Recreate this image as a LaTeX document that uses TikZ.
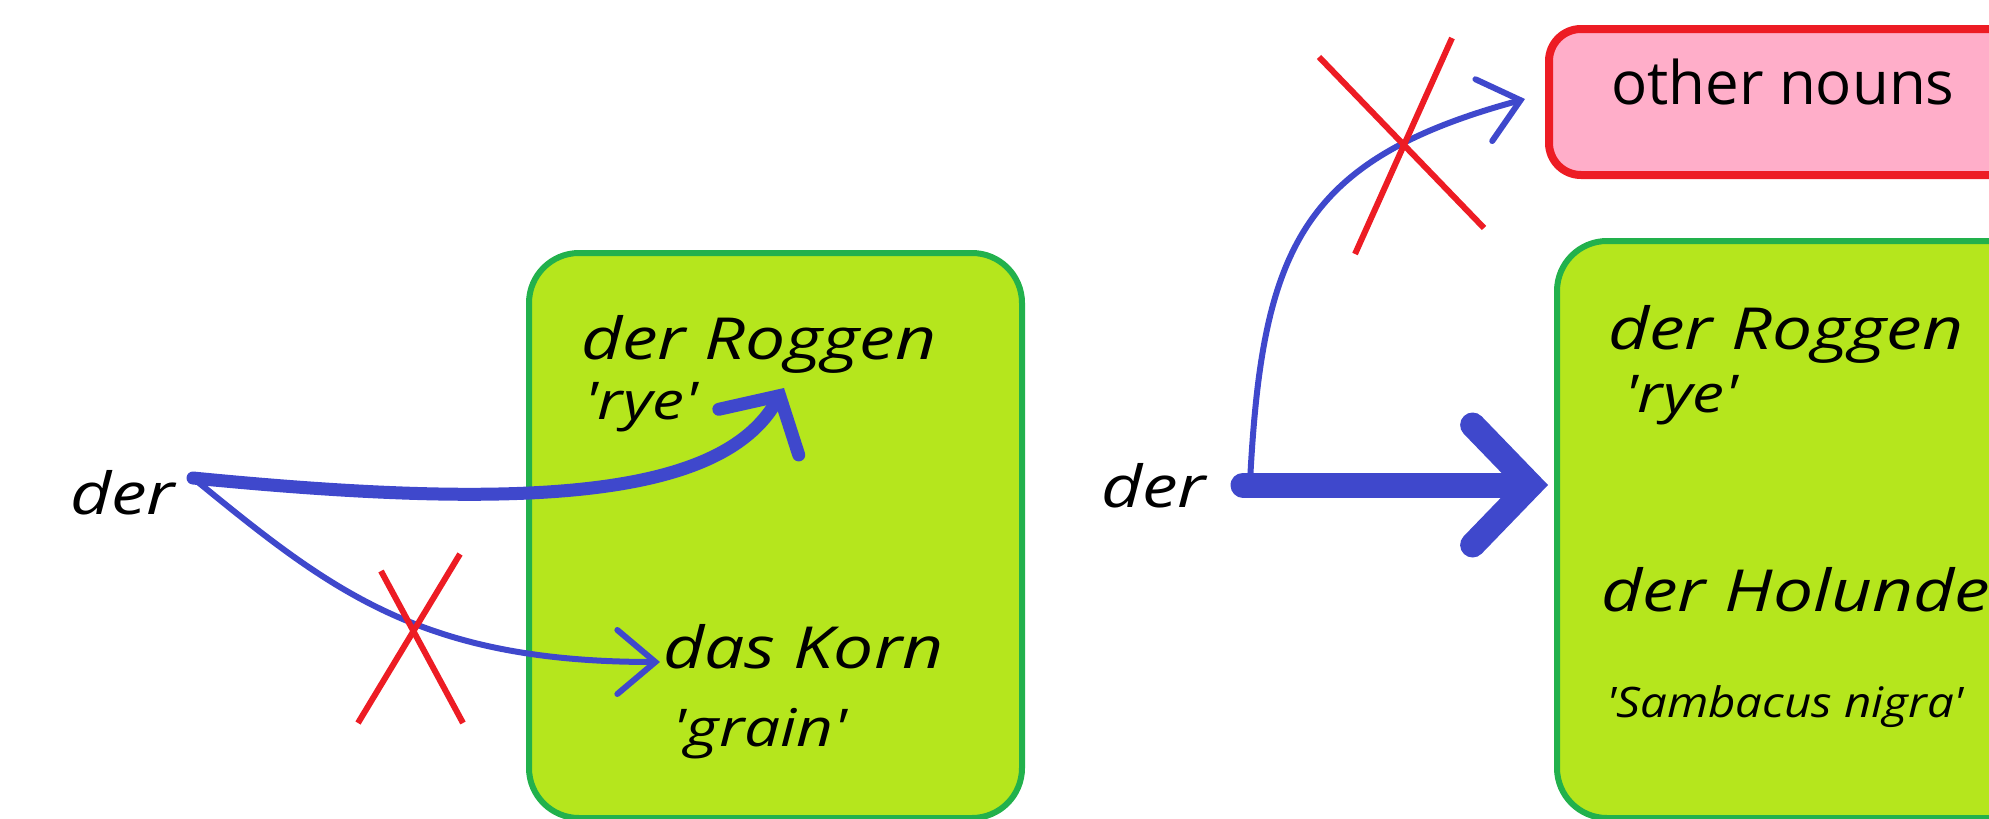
\documentclass[tikz,border=0pt]{standalone}
\usepackage{fontspec}
\setmainfont{Open Sans}
\usetikzlibrary{arrows.meta}
\definecolor{lime}{HTML}{B5E61D}
\definecolor{pgreen}{HTML}{22B14C}
\definecolor{pblue}{HTML}{3F48CC}
\definecolor{pred}{HTML}{ED1C24}
\definecolor{ppink}{HTML}{FFAEC9}
\newcommand{\q}{\textquotesingle}
\newcommand{\wide}[2][1.23]{\scalebox{#1}[1]{#2}}
\tikzset{
  greenbox/.style={draw=pgreen, fill=lime, line width=6pt, rounded corners=50pt, inner sep=0pt},
  pinkbox/.style={draw=pred, fill=ppink, line width=8pt, rounded corners=32pt, inner sep=0pt},
  bigtxt/.style={font=\fontsize{58}{60}\selectfont\itshape, inner sep=0pt, anchor=base west},
  midtxt/.style={font=\fontsize{52}{56}\selectfont\itshape, inner sep=0pt, anchor=base west},
  smalltxt/.style={font=\fontsize{42}{44}\selectfont\itshape, inner sep=0pt, anchor=base west},
  uptxt/.style={font=\fontsize{60}{62}\selectfont, inner sep=0pt, anchor=base west},
  thickarrow/.style={draw=pblue, line width=13pt, line cap=round, -{Straight Barb[length=42pt,width=92pt,line cap=round]}},
  hugearrow/.style={draw=pblue, line width=25pt, line cap=round, -{Straight Barb[length=58pt,width=120pt,line cap=round]}},
  thinarrow/.style={draw=pblue, line width=6pt, line cap=round, -{Straight Barb[length=38pt,width=64pt,line cap=round]}},
  crossline/.style={draw=pred, line width=6pt}
}
\begin{document}
\begin{tikzpicture}[x=1pt,y=-1pt]
\useasboundingbox (0,0) rectangle (1989,819);
\clip (0,0) rectangle (1989,819);
% boxes
\node[greenbox, minimum width=493pt, minimum height=565pt, anchor=north west] (boxL) at (526,250) {};
\node[greenbox, minimum width=560pt, minimum height=577pt, anchor=north west] (boxR) at (1554,238) {};
\node[pinkbox, minimum width=560pt, minimum height=146pt, anchor=north west] (boxP) at (1545,25) {};
% texts
\node[bigtxt] (derL) at (70,514) {\wide{der}};
\node[bigtxt] (roggenL) at (581,359) {\wide{der Roggen}};
\node[midtxt] (ryeL) at (584,419) {\wide{\q rye\q}};
\node[bigtxt] (korn) at (663,668) {\wide{das Korn}};
\node[midtxt] (grain) at (672,746) {\wide{\q grain\q}};
\node[bigtxt] (derR) at (1101,507) {\wide{der}};
\node[bigtxt] (roggenR) at (1608,349) {\wide{der Roggen}};
\node[midtxt] (ryeR) at (1624,412) {\wide{\q rye\q}};
\node[bigtxt] (holunder) at (1601,611) {\wide{der Holunder}};
\node[smalltxt] (samb) at (1606,717) {\wide[1.13]{\q Sambacus nigra\q}};
\node[uptxt] (other) at (1611,104) {other nouns};
% connector end points
\coordinate (sL) at (193,478);
\coordinate (tRog) at (784,388);
\coordinate (tKorn) at (660,662);
\coordinate (sR) at (1243,485);
\coordinate (tBoxR) at (1548,485);
\coordinate (sR2) at (1250,482);
\coordinate (tOther) at (1525,99);
% arrows
\draw[thickarrow] (sL) .. controls (520,510) and (720,500) .. (tRog);
\draw[thinarrow] (sL) .. controls (330,590) and (420,662) .. (tKorn);
\draw[hugearrow] (sR) -- (tBoxR);
\draw[thinarrow] (sR2) .. controls (1262,250) and (1300,160) .. (tOther);
% crosses
\draw[crossline] (381,571) -- (463,723);
\draw[crossline] (460,554) -- (358,723);
\draw[crossline] (1319,57) -- (1484,228);
\draw[crossline] (1452,38) -- (1355,254);
\end{tikzpicture}
\end{document}
